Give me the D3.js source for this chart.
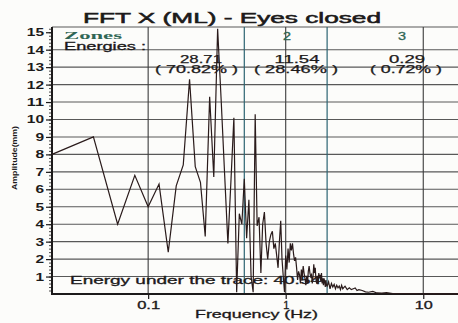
<!DOCTYPE html>
<html>
<head>
<meta charset="utf-8">
<script src="https://cdn.jsdelivr.net/npm/d3@7"></script>
<style>
body { margin: 0; background: #fcfcfa; }
svg { display: block; font-family: 'Liberation Sans', Arial, sans-serif; }
</style>
</head>
<body>
<svg id="chart" width="458" height="323"></svg>
<script>
// FFT spectrum (Hz / mm)
const frequency = [
  0.02, 0.04, 0.06, 0.08, 0.10, 0.12, 0.14, 0.16, 0.18, 0.20,
  0.22, 0.24, 0.26, 0.28, 0.30, 0.32, 0.34, 0.36, 0.38, 0.40,
  0.42, 0.44, 0.46, 0.48, 0.50, 0.52, 0.54, 0.56, 0.58, 0.60,
  0.62, 0.64, 0.66, 0.68, 0.70, 0.72, 0.74, 0.76, 0.78, 0.80,
  0.82, 0.84, 0.86, 0.88, 0.90, 0.92, 0.94, 0.96, 0.98, 1.00,
  1.02, 1.04, 1.06, 1.08, 1.10, 1.12, 1.14, 1.16, 1.18, 1.20,
  1.22, 1.24, 1.26, 1.28, 1.30, 1.32, 1.34, 1.36, 1.38, 1.40,
  1.42, 1.44, 1.46, 1.48, 1.50, 1.52, 1.54, 1.56, 1.58, 1.60,
  1.62, 1.64, 1.66, 1.68, 1.70, 1.72, 1.74, 1.76, 1.78, 1.80,
  1.82, 1.84, 1.86, 1.88, 1.90, 1.92, 1.94, 1.96, 1.98, 2.00,
  2.05, 2.10, 2.15, 2.20, 2.25, 2.30, 2.35, 2.40, 2.45, 2.50,
  2.55, 2.60, 2.70, 2.80, 2.90, 3.00, 3.10, 3.20, 3.30, 3.40,
  3.60, 3.80, 4.00, 4.30, 4.60, 5.00, 5.40, 6.00, 7.00, 8.00,
  9.00, 10.0, 12.0, 14.0, 18.0, 25.0
];
const amplitude = [
  8.0, 9.0, 4.0, 6.8, 5.0, 6.3, 2.4, 6.2, 7.4, 12.3,
  7.3, 6.4, 3.3, 11.3, 6.7, 15.2, 11.0, 6.8, 2.9, 6.5,
  10.1, 0.1, 4.6, 4.0, 6.6, 3.2, 5.4, 1.0, 0.1, 10.3,
  3.9, 4.4, 1.2, 4.0, 4.7, 2.9, 2.0, 3.0, 3.4, 3.6,
  2.6, 2.9, 2.2, 1.5, 3.0, 4.2, 2.0, 1.0, 0.1, 2.2,
  1.4, 2.6, 1.8, 2.9, 2.5, 2.9, 2.3, 1.9, 2.1, 1.5,
  0.8, 1.3, 1.1, 0.6, 1.4, 1.0, 1.6, 1.2, 0.9, 0.5,
  1.0, 0.6, 1.3, 1.6, 1.2, 1.0, 1.1, 0.6, 1.0, 1.7,
  1.2, 1.5, 0.8, 0.6, 1.0, 0.6, 1.2, 0.9, 1.1, 0.7,
  1.2, 0.6, 0.9, 0.5, 0.9, 0.7, 0.4, 0.8, 0.5, 0.45,
  0.7, 0.3, 0.6, 0.4, 0.55, 0.3, 0.5, 0.35, 0.45, 0.25,
  0.5, 0.3, 0.45, 0.25, 0.35, 0.25, 0.3, 0.35, 0.2, 0.25,
  0.2, 0.12, 0.1, 0.15, 0.06, 0.05, 0.08, 0.03, 0.03, 0.02,
  0.03, 0.01, 0.02, 0.01, 0.01, 0.01
];

const yTickValues = [1, 2, 3, 4, 5, 6, 7, 8, 9, 10, 11, 12, 13, 14, 15];
const gridValues = [1, 2, 3, 4, 5, 6, 7, 8, 9, 10, 11, 12, 13, 14];
const xTickValues = [0.1, 1, 10];
const xTickLabels = ['0.1', '1', '10'];
const zoneBounds = [0.5, 2];
const zoneNames = ['2', '3'];
const zoneEnergies = ['28.71', '11.54', '0.29'];
const zonePercents = ['( 70.82% )', '( 28.46% )', '( 0.72% )'];
const totalEnergy = '40.54';

const W = 458, H = 323;
const plot = { left: 52, top: 27, right: 478, bottom: 294 };
const gridColor = '#585858';
const zoneColor = '#2c6472';
const teal = '#2f6655';
const ink = '#1c1a1a';

const svg = d3.select('#chart');
svg.append('rect').attr('width', W).attr('height', H).attr('fill', '#fcfcfa');

const xScale = d3.scaleLog().domain([0.02, 25]).range([plot.left, plot.right]);
const yScale = d3.scaleLinear().domain([0, 15.3]).range([plot.bottom, plot.top]);

// stretch text horizontally to the scanned width, heavier stroke like the scan
function stretch(sel, w) {
  sel.attr('textLength', w).attr('lengthAdjust', 'spacingAndGlyphs');
}
function heavy(sel, sw) {
  sel.attr('stroke', sel.attr('fill')).attr('stroke-width', sw || 0.35);
}

// horizontal grid
svg.append('g').selectAll('line').data(gridValues).join('line')
  .attr('x1', plot.left).attr('x2', W)
  .attr('y1', d => yScale(d)).attr('y2', d => yScale(d))
  .attr('stroke', gridColor).attr('stroke-width', 1.1);
// top border
svg.append('line').attr('x1', plot.left).attr('x2', W)
  .attr('y1', plot.top).attr('y2', plot.top)
  .attr('stroke', gridColor).attr('stroke-width', 1.2);

// decade grid lines
svg.append('g').selectAll('line').data(xTickValues).join('line')
  .attr('x1', d => xScale(d)).attr('x2', d => xScale(d))
  .attr('y1', plot.top).attr('y2', plot.bottom)
  .attr('stroke', '#3c3c3c').attr('stroke-width', 1.1);

// zone boundaries
svg.append('g').selectAll('line').data(zoneBounds).join('line')
  .attr('x1', d => xScale(d)).attr('x2', d => xScale(d))
  .attr('y1', plot.top).attr('y2', plot.bottom)
  .attr('stroke', zoneColor).attr('stroke-width', 1.2);

// Y axis, major + minor ticks
const yAxis = d3.axisLeft(yScale).tickValues(yTickValues).tickSize(6).tickSizeOuter(0);
const yAxisDraw = svg.append('g').attr('transform', `translate(${plot.left},0)`).call(yAxis);
yAxisDraw.select('.domain').remove();
yAxisDraw.selectAll('line').attr('stroke', ink).attr('stroke-width', 1.2);
yAxisDraw.selectAll('text')
  .attr('x', -8).attr('dy', '0.35em')
  .style('font-family', "'Liberation Sans', Arial, sans-serif")
  .style('font-size', '10px').style('font-weight', 'bold').attr('fill', ink)
  .each(function (d) { stretch(d3.select(this), String(d).length * 8.6); });

const yMinor = d3.axisLeft(yScale).tickValues(d3.range(0.2, 15.3, 0.2)).tickSize(3).tickFormat('');
const yMinorDraw = svg.append('g').attr('transform', `translate(${plot.left},0)`).call(yMinor);
yMinorDraw.select('.domain').remove();
yMinorDraw.selectAll('line').attr('stroke', ink).attr('stroke-width', 0.8);

// X axis
const xAxis = d3.axisBottom(xScale).tickValues(xTickValues)
  .tickFormat((d, i) => xTickLabels[i]).tickSize(5).tickSizeOuter(0);
const xAxisDraw = svg.append('g').attr('transform', `translate(0,${plot.bottom})`).call(xAxis);
xAxisDraw.select('.domain').remove();
xAxisDraw.selectAll('line').attr('stroke', ink).attr('stroke-width', 1.2);
xAxisDraw.selectAll('text')
  .attr('y', 8).attr('dy', '0.71em')
  .style('font-family', "'Liberation Sans', Arial, sans-serif")
  .style('font-size', '10px').attr('fill', ink)
  .each(function (d, i) { stretch(d3.select(this), [23, 6, 18][i]); heavy(d3.select(this), 0.3); });

// axis lines
svg.append('line').attr('x1', plot.left).attr('x2', plot.left)
  .attr('y1', plot.top).attr('y2', plot.bottom + 1)
  .attr('stroke', ink).attr('stroke-width', 2);
svg.append('line').attr('x1', plot.left - 1).attr('x2', W)
  .attr('y1', plot.bottom).attr('y2', plot.bottom)
  .attr('stroke', ink).attr('stroke-width', 2);

// Title and axis titles
svg.append('text').attr('x', 83).attr('y', 23)
  .style('font-size', '14px').attr('fill', ink)
  .text('FFT X (ML) - Eyes closed').call(stretch, 298).call(heavy, 0.5);

svg.append('text').attr('x', 195).attr('y', 318)
  .style('font-size', '10.5px').attr('fill', ink)
  .text('Frequency (Hz)').call(stretch, 123).call(heavy, 0.3);

svg.append('text')
  .attr('transform', 'translate(17,158) rotate(-90)')
  .attr('text-anchor', 'middle')
  .style('font-size', '8px').style('font-weight', 'bold').attr('fill', ink)
  .text('Amplitude(mm)').call(stretch, 64);

// zone annotations
svg.append('text').attr('x', 64).attr('y', 38.5)
  .style('font-family', "'Liberation Serif', serif")
  .style('font-size', '11px').style('font-weight', 'bold').attr('fill', teal)
  .text('Zones').call(stretch, 58);

svg.append('text').attr('x', 64).attr('y', 50)
  .style('font-size', '10.5px').attr('fill', ink)
  .text('Energies :').call(stretch, 82).call(heavy, 0.3);

const zoneLabelX = [287, 402];
svg.append('g').selectAll('text').data(zoneNames).join('text')
  .attr('x', (d, i) => zoneLabelX[i]).attr('y', 40)
  .attr('text-anchor', 'middle')
  .style('font-size', '10px').attr('fill', teal)
  .text(d => d).call(stretch, 8).call(heavy, 0.3);

const energyX = [201, 297, 407];
const energyW = [42, 45, 36];
const pctX = [196.5, 296, 406];
const pctW = [83, 84, 72];
svg.append('g').selectAll('text').data(zoneEnergies).join('text')
  .attr('x', (d, i) => energyX[i]).attr('y', 63)
  .attr('text-anchor', 'middle')
  .style('font-size', '10px').attr('fill', ink)
  .text(d => d)
  .each(function (d, i) { stretch(d3.select(this), energyW[i]); heavy(d3.select(this), 0.25); });
svg.append('g').selectAll('text').data(zonePercents).join('text')
  .attr('x', (d, i) => pctX[i]).attr('y', 73)
  .attr('text-anchor', 'middle')
  .style('font-size', '10px').attr('fill', ink)
  .text(d => d)
  .each(function (d, i) { stretch(d3.select(this), pctW[i]); heavy(d3.select(this), 0.25); });

svg.append('text').attr('x', 70).attr('y', 283.5)
  .style('font-size', '10.5px').attr('fill', ink)
  .text(`Energy under the trace: ${totalEnergy}`).call(stretch, 251).call(heavy, 0.3);

// trace
const spectrum = frequency.map((f, i) => ({ f: f, a: amplitude[i] }));
const line = d3.line().x(d => xScale(d.f)).y(d => yScale(d.a));
svg.append('path').datum(spectrum)
  .attr('d', line)
  .attr('fill', 'none')
  .attr('stroke', '#2a1b1b')
  .attr('stroke-width', 1.2)
  .attr('stroke-linejoin', 'miter');
</script>
</body>
</html>
